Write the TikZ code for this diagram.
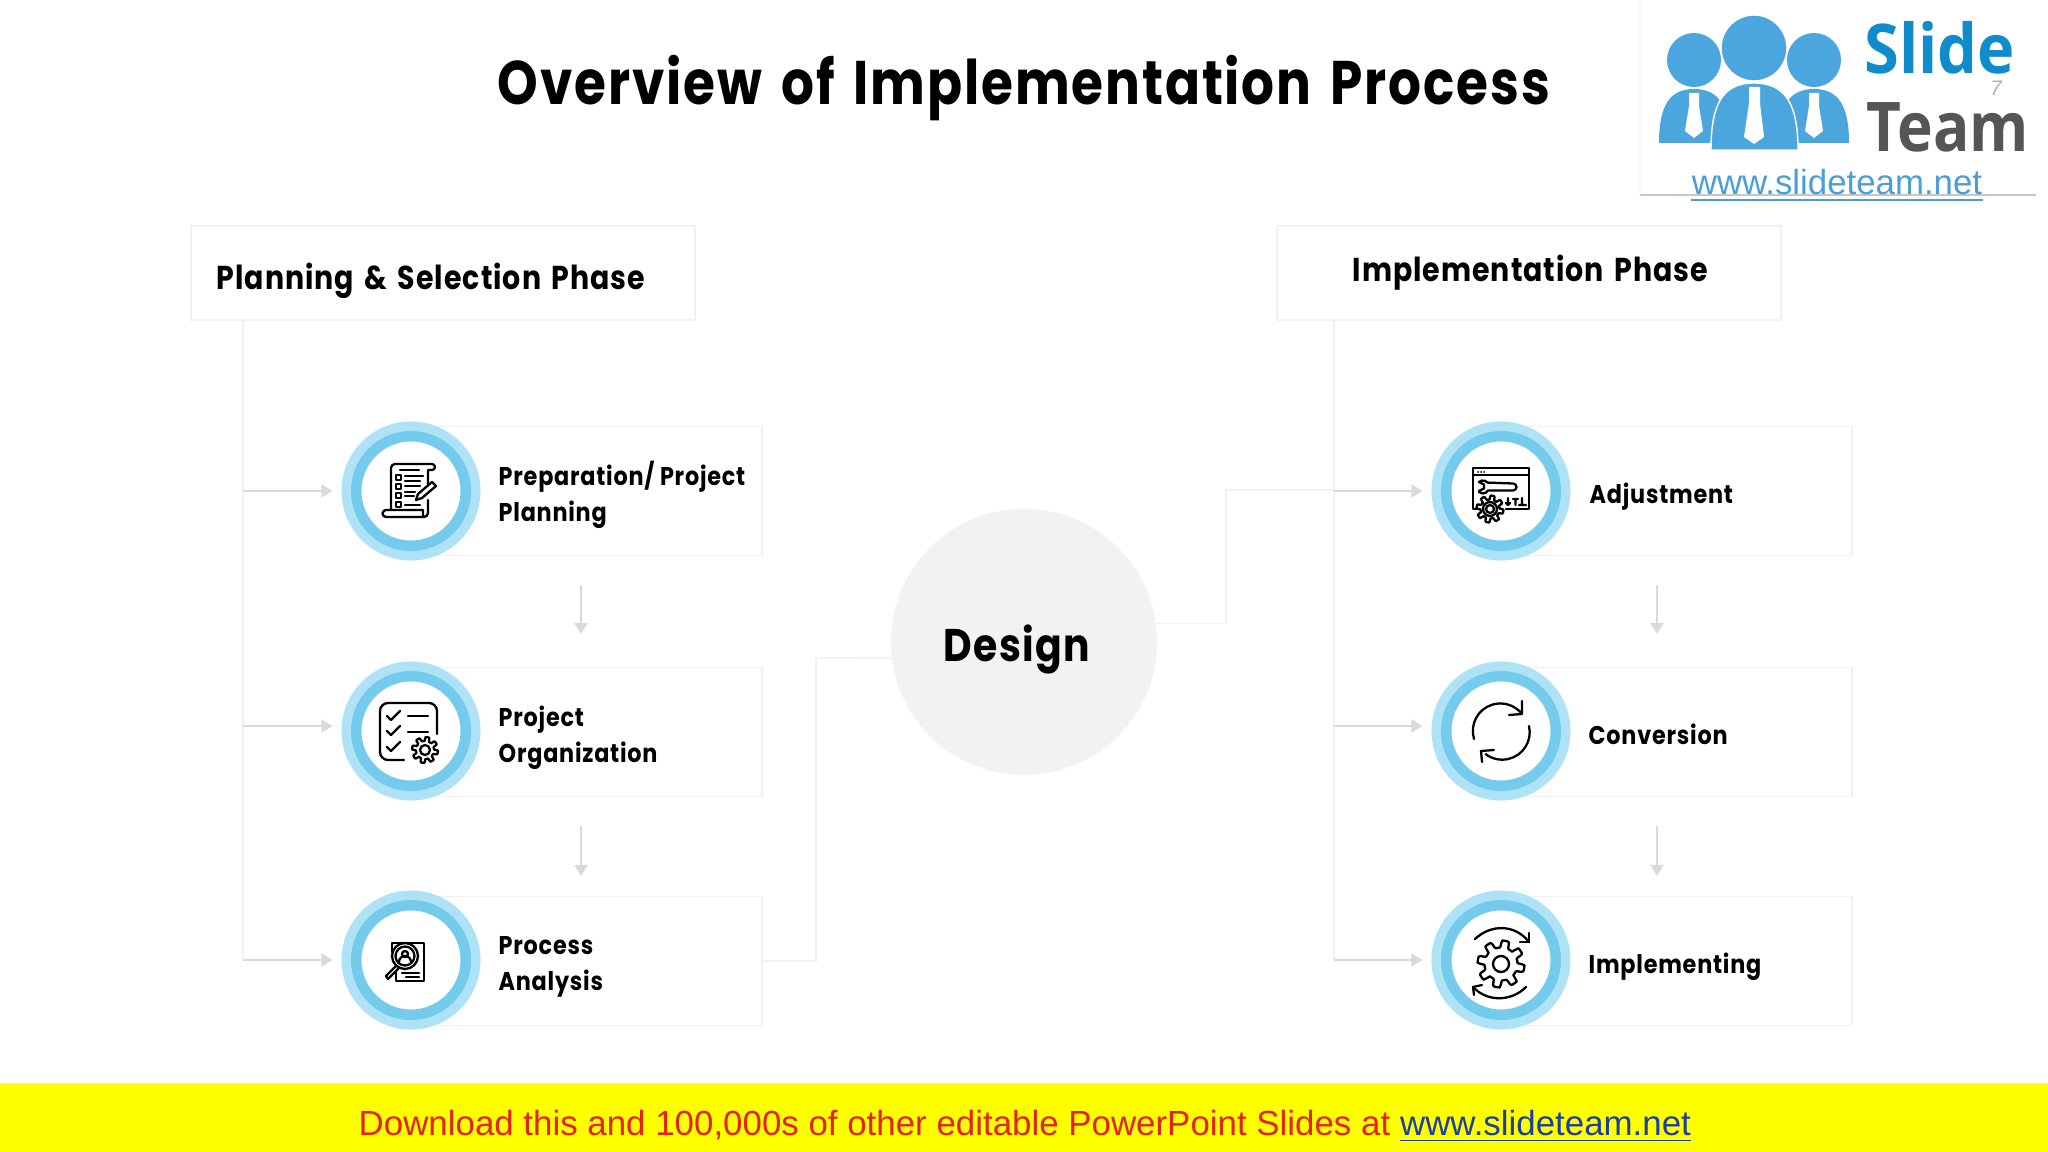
\documentclass[tikz,border=0pt]{standalone}
\usepackage{fontspec}
\setmainfont{Poppins}
\newfontfamily\titlefont{Poppins}[FakeStretch=0.84,LetterSpace=3,WordSpace=1.5]
\newfontfamily\headfont{Poppins}[FakeStretch=0.86,LetterSpace=3,WordSpace=1.5]
\newfontfamily\cardfont{Poppins}[FakeStretch=0.87,LetterSpace=3]
\newfontfamily\slidefont{Open Sans}[FakeStretch=0.92]
\newfontfamily\teamfont{Open Sans}[FakeStretch=0.88]
\newfontfamily\adfont{Liberation Sans}
\usetikzlibrary{arrows}
\usetikzlibrary{arrows.meta}
\usetikzlibrary{calc}
\usetikzlibrary{positioning}
\usetikzlibrary{shapes}
\definecolor{ringlight}{HTML}{AEE2F6}
\definecolor{ringmid}{HTML}{74CBEC}
\definecolor{paleline}{HTML}{F1F1F4}
\definecolor{arrowgrey}{HTML}{DADADE}
\definecolor{designfill}{HTML}{F2F2F4}
\definecolor{logoblue}{HTML}{4CA6DE}
\definecolor{slideblue}{HTML}{0E8CCB}
\definecolor{teamgrey}{HTML}{555557}
\definecolor{urlblue}{HTML}{4A9FD6}
\definecolor{adred}{HTML}{E3231B}
\definecolor{adblue}{HTML}{1B3FA5}
\definecolor{adyellow}{HTML}{FFFF00}
\tikzset{
  ring/.style={circle,fill=white,minimum size=10.95mm,inner sep=0pt,outer sep=1.475mm,
    draw=ringmid,line width=1.05mm,preaction={draw=ringlight,line width=2.95mm}},
  card/.style={draw=paleline,fill=white,minimum width=3.51cm,minimum height=1.29cm,anchor=east,inner sep=0pt,outer sep=0pt},
  headbox/.style={draw=paleline,fill=white,minimum width=5.04cm,minimum height=0.94cm,inner sep=0pt,outer sep=0pt},
  headtext/.style={anchor=base west,inner sep=0pt,font=\headfont\fontsize{9.4}{11}\selectfont\bfseries},
  cardtext/.style={anchor=west,align=left,inner sep=0pt,font=\cardfont\fontsize{7.3}{10.2}\selectfont\bfseries},
  link/.style={draw=paleline,line width=0.5pt},
  branch/.style={draw=arrowgrey,line width=0.5pt,-{Triangle[width=1.3mm,length=1.1mm]},shorten >=0.9mm},
  stepdown/.style={draw=arrowgrey,line width=0.5pt,-{Triangle[width=1.3mm,length=1.1mm]}},
  iconline/.style={draw=black,line width=0.65pt,line cap=round,line join=round},
  pics/prepicon/.style={code={
    \draw[iconline] (-20,19) -- (-20,-23) arc[start angle=180,end angle=270,radius=4] -- (21,-27) arc[start angle=-90,end angle=90,radius=3] -- (17,-21) -- (17,-7);
    \draw[iconline] (17,9) -- (17,22) arc[start angle=0,end angle=90,radius=4] -- (-25,26) arc[start angle=90,end angle=270,radius=3.5] -- (12,19) -- (12,26);
    \draw[iconline] (-11,-21) -- (8,-21) (-6,-15) -- (12,-15) (-6,-10) -- (9,-10) (-6,-5) -- (9,-5) (-6,1) -- (4,1) (-6,5) -- (3,5) (-6,14) -- (9,14);
    \foreach \y in {-14,-5,4,13} {\draw[iconline] (-15,\y-2) rectangle (-10,\y+3);}
    \draw[iconline,fill=white] (5,9) -- (7,3) -- (21,-9) -- (25,-5) -- (11,7) -- cycle;
  }},
  pics/orgicon/.style={code={
    \draw[iconline] (-7,29) -- (-23,29) arc[start angle=90,end angle=180,radius=8] -- (-31,-20) arc[start angle=180,end angle=270,radius=8] -- (18,-28) arc[start angle=270,end angle=360,radius=8] -- (26,3);
    \foreach \y in {-15,0,16} {\draw[iconline] (-24,\y) -- (-20,\y+4) -- (-11,\y-5);}
    \draw[iconline] (-3,-15) -- (17,-15) (-3,1) -- (17,1);
    \draw[iconline,shift={(14,19)}] plot[domain=0:360,samples=121] (\x:{11+2*max(min(3*sin(8*\x),1),-1)}) -- cycle;
    \draw[iconline] (14,19) circle[radius=5];
  }},
  pics/procicon/.style={code={
    \draw[iconline] (-19,-8) -- (-19,-17) -- (13,-17) -- (13,21) -- (-15,21) -- (-15,12);
    \draw[iconline,fill=white] (-6,-4) circle[radius=13];
    \draw[iconline] (-6,-4) circle[radius=9.5];
    \draw[iconline] (-6,-6) circle[radius=3];
    \draw[iconline] (-12,2) arc[start angle=180,end angle=360,radius=6];
    \draw[iconline] (-15,6) -- (-25,16) -- (-23,19) -- (-13,9);
    \draw[iconline] (-9,13) -- (8,13) (-5,17) -- (8,17);
  }},
  pics/adjicon/.style={code={
    \draw[iconline] (-23,18) -- (-28,18) -- (-28,-23) -- (28,-23) -- (28,18) -- (5,18);
    \draw[iconline] (-28,-16) -- (28,-16);
    \foreach \x in {-23,-20,-17} {\fill (\x,-19) circle[radius=1];}
    \draw[iconline] (-22,-9) -- (-17,-6.5) -- (-17,-2.5) -- (-22,0);
    \draw[iconline] (-22,-9) arc[start angle=228,end angle=320,radius=6] -- (12,-7.5) arc[start angle=270,end angle=450,radius=3.5] -- (-13,-0.5) arc[start angle=30,end angle=132,radius=6];
    \draw[iconline,fill=white,shift={(-11,18)}] plot[domain=0:360,samples=121] (\x:{11.5+2*max(min(3*sin(8*\x),1),-1)}) -- cycle;
    \draw[iconline] (-11,18) circle[radius=7] (-11,18) circle[radius=4];
    \draw[iconline] (7,7) -- (7,14) (5,12) -- (7,14) -- (9,12) (12,8) -- (17,8) (14.5,8) -- (14.5,14) (21,7) -- (21,14) (18,14) -- (25,14);
  }},
  pics/convicon/.style={code={
    \draw[iconline] (-27,8) arc[start angle=163,end angle=320,radius=27.5];
    \draw[iconline] (21,-30) -- (21,-17) -- (8,-16);
    \draw[iconline] (28,-5) arc[start angle=-13,end angle=127,radius=27.5];
    \draw[iconline] (-19,31) -- (-20,20) -- (-7,19);
  }},
  pics/implicon/.style={code={
    \draw[iconline,shift={(0,4)}] plot[domain=0:360,samples=121] (\x:{20+3.5*max(min(3*sin(8*\x),1),-1)}) -- cycle;
    \draw[iconline] (0,4) circle[radius=8];
    \draw[iconline] (-26,-21) .. controls (-10,-36) and (14,-36) .. (28,-18);
    \draw[iconline] (28,-27) -- (28,-18) -- (19,-18);
    \draw[iconline] (25,27) .. controls (10,42) and (-14,42) .. (-28,27);
    \draw[iconline] (-27,35) -- (-28,27) -- (-19,25);
  }},
}
\begin{document}
\begin{tikzpicture}[x=0.01cm,y=-0.01cm]
  \useasboundingbox (0,0) rectangle (2048,1152);
  \fill[white] (0,0) rectangle (2048,1152);
  \node[anchor=base,inner sep=0pt,font=\titlefont\fontsize{17.5}{22}\selectfont\bfseries] (title) at (1024,105) {Overview of Implementation Process};

  \draw[draw=black!4] (1640,0) -- (1640,195);
  \draw[draw=black!22] (1640,195) -- (2036,195);
  \fill[logoblue] (1659,143) .. controls (1659,105) and (1670,89) .. (1694,89) .. controls (1718,89) and (1730,105) .. (1730,143) -- cycle;
  \fill[logoblue] (1849,143) .. controls (1849,105) and (1838,89) .. (1814,89) .. controls (1790,89) and (1778,105) .. (1778,143) -- cycle;
  \fill[logoblue] (1694,60) circle[radius=27] (1814,60) circle[radius=27];
  \filldraw[fill=logoblue,draw=white,line width=0.4pt] (1711,150) .. controls (1711,105) and (1722,83) .. (1754,83) .. controls (1786,83) and (1798,105) .. (1798,150) -- cycle;
  \filldraw[fill=logoblue,draw=white,line width=0.4pt] (1754,48) circle[radius=33];
  \fill[white] (1749,87) -- (1760,87) -- (1760,103) -- (1764,137) -- (1754,144) -- (1744,137) -- (1749,103) -- cycle;
  \fill[white] (1689,93) -- (1699,93) -- (1699,106) -- (1703,131) -- (1694,138) -- (1685,131) -- (1689,106) -- cycle;
  \fill[white] (1809,93) -- (1819,93) -- (1819,106) -- (1823,131) -- (1814,138) -- (1805,131) -- (1809,106) -- cycle;
  \node[anchor=base west,inner sep=0pt,text=slideblue,font=\slidefont\fontsize{19.5}{22}\selectfont\bfseries] (logoSlide) at (1864,74) {Slide};
  \node[anchor=base west,inner sep=0pt,text=teamgrey,font=\teamfont\fontsize{19.5}{22}\selectfont\bfseries] (logoTeam) at (1866,152) {Team};
  \node[anchor=base,inner sep=0pt,text=urlblue,font=\adfont\fontsize{9.9}{11}\selectfont] (logoUrl) at (1837,195) {www.slideteam.net};
  \draw[urlblue,line width=0.8pt] ($(logoUrl.base west)+(0,5)$) -- ($(logoUrl.base east)+(0,5)$);
  \node[anchor=center,inner sep=0pt,text=black!30,font=\adfont\itshape\fontsize{6}{7}\selectfont] (pageNum) at (1996,88) {7};

  \node[headbox] (planHead) at (443,273) {};
  \node[headbox] (implHead) at (1529,273) {};
  \node[headtext] (planText) at (216,290) {Planning \& Selection Phase};
  \node[headtext] (implText) at (1352,282) {Implementation Phase};

  \coordinate (planTrunk) at ($(planHead.south west)+(52,0)$);
  \coordinate (implTrunk) at ($(implHead.south west)+(57,0)$);
  \coordinate (leftTurn) at (816,658);
  \coordinate (rightTurn) at (1226,490);

  \node[card] (prepCard) at (762,491) {};
  \node[card] (orgCard) at (762,732) {};
  \node[card] (procCard) at (762,961) {};
  \node[card] (adjCard) at (1852,491) {};
  \node[card] (convCard) at (1852,732) {};
  \node[card] (implCard) at (1852,961) {};

  \node[circle,fill=designfill,minimum size=2.66cm,inner sep=0pt,outer sep=0pt] (designCircle) at (1024,642) {};
  \node[anchor=base,inner sep=0pt,font=\headfont\fontsize{13}{16}\selectfont\bfseries] (designText) at (1017,662) {Design};

  \node[ring] (prepRing) at (411,491) {};
  \node[ring] (orgRing) at (411,731) {};
  \node[ring] (procRing) at (411,960) {};
  \node[ring] (adjRing) at (1501,491) {};
  \node[ring] (convRing) at (1501,731) {};
  \node[ring] (implRing) at (1501,960) {};

  \draw[link] (planTrunk) -- (planTrunk |- procRing.west);
  \draw[link] (implTrunk) -- (implTrunk |- implRing.west);
  \coordinate (orgIn) at ($(orgRing.west)+(0,-5)$);
  \coordinate (convIn) at ($(convRing.west)+(0,-5)$);
  \draw[branch] (planTrunk |- prepRing.west) -- (prepRing.west);
  \draw[branch] (planTrunk |- orgIn) -- (orgIn);
  \draw[branch] (planTrunk |- procRing.west) -- (procRing.west);
  \draw[branch] (implTrunk |- convIn) -- (convIn);
  \draw[branch] (implTrunk |- implRing.west) -- (implRing.west);
  \draw[link] (procCard.east) -| (leftTurn) -- (designCircle.187);
  \draw[link] (designCircle.8) -| (rightTurn) -- (implTrunk |- rightTurn);
  \draw[branch] (implTrunk |- adjRing.west) -- (adjRing.west);

  \coordinate (prepDown) at (581,585);
  \coordinate (orgTop) at (581,634);
  \coordinate (orgDown) at (581,826);
  \coordinate (procTop) at (581,876);
  \coordinate (adjDown) at (1657,585);
  \coordinate (convTop) at (1657,634);
  \coordinate (convDown) at (1657,826);
  \coordinate (implTop) at (1657,876);
  \draw[stepdown] (prepDown) -- (orgTop);
  \draw[stepdown] (orgDown) -- (procTop);
  \draw[stepdown] (adjDown) -- (convTop);
  \draw[stepdown] (convDown) -- (implTop);

  \node[cardtext] (prepText) at (498,495) {Preparation/ Project\\Planning};
  \node[cardtext] (orgText) at (498,738) {Project\\Organization};
  \node[cardtext] (procText) at (498,967) {Process\\Analysis};
  \node[cardtext] (adjText) at (1589,497) {Adjustment};
  \node[cardtext] (convText) at (1588,734) {Conversion};
  \node[cardtext] (implText2) at (1588,967) {Implementing};

  \path (prepRing.center) pic {prepicon};
  \path (orgRing.center) pic {orgicon};
  \path (procRing.center) pic {procicon};
  \path (adjRing.center) pic {adjicon};
  \path (convRing.center) pic {convicon};
  \path (implRing.center) pic {implicon};

  \fill[adyellow] (0,1083) rectangle (2048,1152);
  \node[anchor=base west,inner sep=0pt,text=adred,font=\adfont\fontsize{9.92}{12}\selectfont] (adText) at (358,1135) {Download this and 100,000s of other editable PowerPoint Slides at \textcolor{adblue}{\underline{www.slideteam.net}}};
\end{tikzpicture}
\end{document}
